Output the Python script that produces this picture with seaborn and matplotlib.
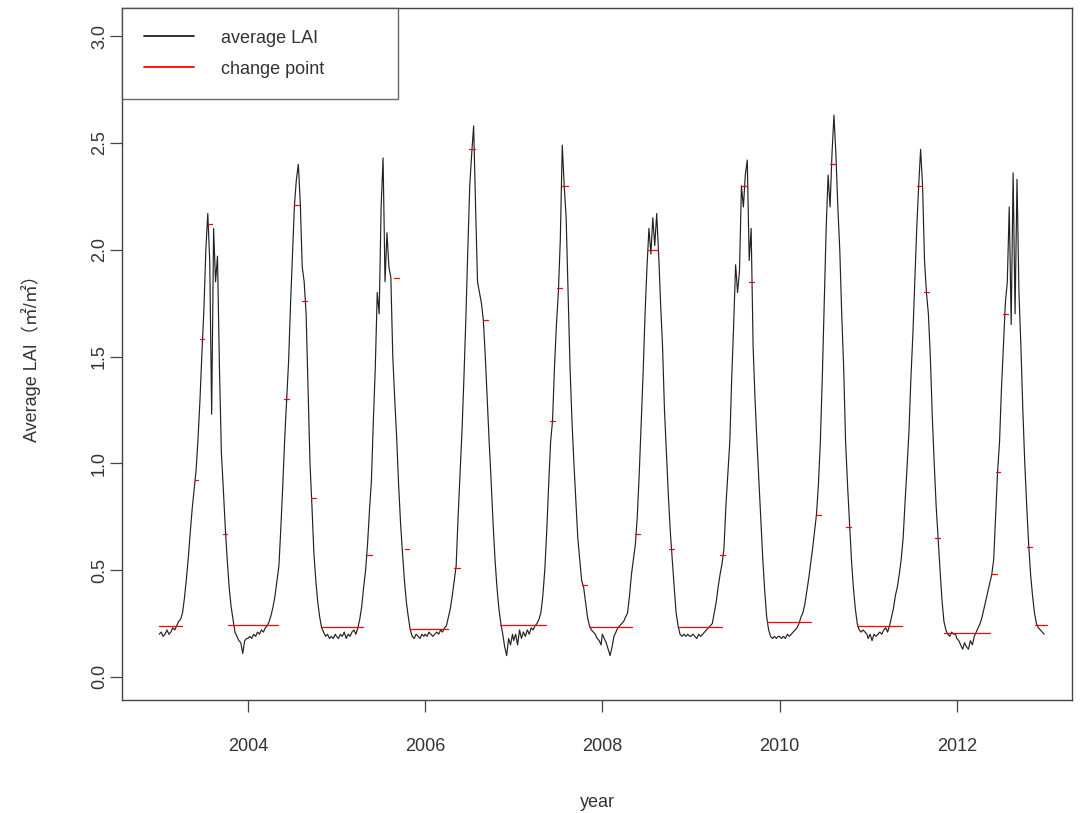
import numpy as np
import pandas as pd
import matplotlib
matplotlib.use("Agg")
import matplotlib.pyplot as plt
from matplotlib.lines import Line2D
import seaborn as sns

# ---------------- data (8-day composites, 46 per year) ----------------
years = [2003, 2004, 2005, 2006, 2007, 2008, 2009, 2010, 2011, 2012]

lai_2003 = [0.20, 0.21, 0.19, 0.20, 0.22, 0.20, 0.21, 0.23, 0.22, 0.24, 0.26,
            0.27, 0.30, 0.37, 0.46, 0.56, 0.68, 0.79, 0.88, 0.97, 1.12, 1.30,
            1.52, 1.72, 2.00, 2.17, 1.95, 1.23, 2.10, 1.85, 1.97, 1.45, 1.05,
            0.88, 0.70, 0.55, 0.42, 0.33, 0.27, 0.21, 0.19, 0.17, 0.16, 0.11,
            0.17, 0.18]
lai_2004 = [0.18, 0.19, 0.18, 0.20, 0.19, 0.21, 0.20, 0.22, 0.21, 0.23, 0.24,
            0.26, 0.29, 0.33, 0.38, 0.45, 0.52, 0.70, 0.90, 1.12, 1.30, 1.48,
            1.75, 1.98, 2.21, 2.33, 2.40, 2.22, 1.92, 1.85, 1.70, 1.35, 1.00,
            0.80, 0.58, 0.45, 0.35, 0.28, 0.23, 0.21, 0.19, 0.20, 0.18, 0.19,
            0.18, 0.20]
lai_2005 = [0.19, 0.18, 0.20, 0.19, 0.21, 0.18, 0.20, 0.19, 0.21, 0.22, 0.20,
            0.23, 0.27, 0.33, 0.42, 0.50, 0.62, 0.78, 0.92, 1.20, 1.45, 1.80,
            1.70, 2.20, 2.43, 1.85, 2.08, 1.92, 1.87, 1.50, 1.30, 1.12, 0.90,
            0.72, 0.58, 0.45, 0.35, 0.28, 0.22, 0.19, 0.18, 0.20, 0.19, 0.18,
            0.20, 0.19]
lai_2006 = [0.20, 0.19, 0.21, 0.20, 0.19, 0.20, 0.21, 0.20, 0.22, 0.21, 0.23,
            0.24, 0.28, 0.32, 0.38, 0.45, 0.52, 0.75, 0.95, 1.15, 1.40, 1.68,
            2.00, 2.30, 2.45, 2.58, 2.20, 1.85, 1.80, 1.75, 1.67, 1.50, 1.30,
            1.10, 0.92, 0.72, 0.55, 0.42, 0.32, 0.25, 0.20, 0.14, 0.10, 0.18,
            0.15, 0.20]
lai_2007 = [0.17, 0.20, 0.15, 0.22, 0.18, 0.21, 0.19, 0.22, 0.20, 0.23, 0.22,
            0.24, 0.25, 0.27, 0.30, 0.38, 0.50, 0.68, 0.90, 1.10, 1.20, 1.45,
            1.65, 1.80, 2.05, 2.49, 2.30, 2.15, 1.80, 1.45, 1.20, 1.00, 0.82,
            0.65, 0.55, 0.45, 0.42, 0.35, 0.28, 0.24, 0.22, 0.21, 0.20, 0.18,
            0.17, 0.15]
lai_2008 = [0.20, 0.18, 0.16, 0.13, 0.10, 0.14, 0.19, 0.21, 0.23, 0.24, 0.25,
            0.26, 0.28, 0.30, 0.38, 0.48, 0.55, 0.62, 0.75, 0.95, 1.18, 1.42,
            1.70, 1.92, 2.10, 1.98, 2.15, 2.02, 2.17, 1.98, 1.75, 1.55, 1.25,
            1.05, 0.85, 0.68, 0.55, 0.42, 0.30, 0.24, 0.20, 0.19, 0.20, 0.19,
            0.20, 0.19]
lai_2009 = [0.19, 0.20, 0.19, 0.18, 0.20, 0.19, 0.20, 0.21, 0.22, 0.23, 0.24,
            0.25, 0.30, 0.35, 0.42, 0.48, 0.53, 0.60, 0.80, 0.95, 1.10, 1.40,
            1.65, 1.93, 1.80, 1.90, 2.30, 2.20, 2.35, 2.42, 1.95, 2.10, 1.55,
            1.30, 1.10, 0.92, 0.75, 0.55, 0.40, 0.28, 0.22, 0.19, 0.18, 0.19,
            0.18, 0.19]
lai_2010 = [0.19, 0.18, 0.19, 0.18, 0.20, 0.19, 0.20, 0.21, 0.22, 0.23, 0.25,
            0.28, 0.30, 0.34, 0.40, 0.46, 0.53, 0.60, 0.68, 0.76, 0.90, 1.10,
            1.40, 1.75, 2.10, 2.35, 2.20, 2.45, 2.63, 2.45, 2.20, 2.00, 1.70,
            1.45, 1.10, 0.90, 0.72, 0.55, 0.42, 0.32, 0.25, 0.22, 0.21, 0.22,
            0.21, 0.20]
lai_2011 = [0.18, 0.20, 0.17, 0.20, 0.19, 0.20, 0.21, 0.20, 0.22, 0.23, 0.21,
            0.24, 0.28, 0.32, 0.38, 0.42, 0.48, 0.55, 0.65, 0.82, 0.98, 1.15,
            1.40, 1.60, 1.85, 2.10, 2.30, 2.47, 2.30, 1.95, 1.80, 1.70, 1.50,
            1.22, 1.00, 0.80, 0.65, 0.50, 0.36, 0.26, 0.22, 0.20, 0.19, 0.21,
            0.20, 0.20]
lai_2012 = [0.18, 0.17, 0.15, 0.13, 0.16, 0.14, 0.13, 0.17, 0.15, 0.19, 0.21,
            0.23, 0.25, 0.28, 0.32, 0.36, 0.40, 0.44, 0.48, 0.55, 0.75, 0.96,
            1.10, 1.35, 1.55, 1.75, 1.85, 2.20, 1.65, 2.36, 1.70, 2.33, 1.80,
            1.55, 1.25, 1.00, 0.80, 0.62, 0.48, 0.38, 0.30, 0.25, 0.23, 0.22,
            0.21, 0.20]

# change-point segments (start, end in decimal years, fitted level)
cp_start = [2003.00, 2003.40, 2003.46, 2003.55, 2003.72, 2003.78,
            2004.41, 2004.52, 2004.61, 2004.71, 2004.82,
            2005.34, 2005.65, 2005.77, 2005.83,
            2006.33, 2006.50, 2006.65, 2006.85,
            2007.41, 2007.49, 2007.55, 2007.77, 2007.85,
            2008.37, 2008.52, 2008.75, 2008.86,
            2009.33, 2009.57, 2009.65, 2009.86,
            2010.41, 2010.57, 2010.75, 2010.87,
            2011.55, 2011.63, 2011.75, 2011.86,
            2012.39, 2012.44, 2012.52, 2012.79, 2012.88]
cp_end = [2003.26, 2003.44, 2003.50, 2003.60, 2003.77, 2004.34,
          2004.47, 2004.58, 2004.67, 2004.77, 2005.30,
          2005.40, 2005.71, 2005.82, 2006.26,
          2006.39, 2006.56, 2006.71, 2007.36,
          2007.47, 2007.55, 2007.61, 2007.83, 2008.33,
          2008.43, 2008.63, 2008.81, 2009.35,
          2009.39, 2009.63, 2009.71, 2010.36,
          2010.47, 2010.63, 2010.81, 2011.38,
          2011.61, 2011.69, 2011.81, 2012.37,
          2012.45, 2012.49, 2012.58, 2012.85, 2013.02]
cp_level = [0.24, 0.92, 1.58, 2.12, 0.67, 0.245,
            1.30, 2.21, 1.76, 0.84, 0.235,
            0.57, 1.87, 0.60, 0.225,
            0.51, 2.47, 1.67, 0.245,
            1.20, 1.82, 2.30, 0.43, 0.235,
            0.67, 2.00, 0.60, 0.235,
            0.57, 2.30, 1.85, 0.255,
            0.76, 2.40, 0.70, 0.24,
            2.30, 1.80, 0.65, 0.205,
            0.48, 0.96, 1.70, 0.61, 0.245]

# ---------------- build tables ----------------
series = [lai_2003, lai_2004, lai_2005, lai_2006, lai_2007,
          lai_2008, lai_2009, lai_2010, lai_2011, lai_2012]
rows = []
for yr, vals in zip(years, series):
    for k, v in enumerate(vals):
        rows.append((yr + (k * 8) / 365.0, v))
df = pd.DataFrame(rows, columns=["year", "lai"])

seg_rows = []
for i, (s, e, l) in enumerate(zip(cp_start, cp_end, cp_level)):
    seg_rows.append((i, s, l))
    seg_rows.append((i, e, l))
seg = pd.DataFrame(seg_rows, columns=["seg", "x", "y"])

# ---------------- plot ----------------
sns.set_theme(style="white")
plt.rcParams["font.family"] = ["Liberation Sans", "Noto Sans CJK SC", "DejaVu Sans"]

fig = plt.figure(figsize=(10.87, 8.13), dpi=100)
ax = fig.add_axes([122 / 1087, 1 - 700 / 813, (1072 - 122) / 1087, (700 - 8) / 813])

sns.lineplot(data=df, x="year", y="lai", color="#222222", linewidth=0.85,
             ax=ax, legend=False)
sns.lineplot(data=seg, x="x", y="y", units="seg", estimator=None,
             color="#ff0000", linewidth=0.9, ax=ax, legend=False)

ax.set_xlim(2002.58, 2013.3)
ax.set_ylim(-0.108, 3.132)
ax.set_xticks([2004, 2006, 2008, 2010, 2012])
ax.set_yticks([0.0, 0.5, 1.0, 1.5, 2.0, 2.5, 3.0])
ax.set_yticklabels(["0.0", "0.5", "1.0", "1.5", "2.0", "2.5", "3.0"])

for sp in ax.spines.values():
    sp.set_color("#444444")
    sp.set_linewidth(1.0)

ax.tick_params(axis="both", which="major", direction="out", length=8.5,
               width=0.9, color="#444444", labelcolor="#333333", labelsize=13,
               bottom=True, left=True)
ax.tick_params(axis="x", pad=19)
ax.tick_params(axis="y", pad=1.5, labelrotation=90)
for lab in ax.get_yticklabels():
    lab.set_verticalalignment("center")

ax.set_xlabel("year", fontsize=13, color="#333333", labelpad=28)
ax.set_ylabel("Average LAI（㎡/㎡）", fontsize=13, color="#333333", labelpad=36)

handles = [Line2D([], [], color="#222222", lw=1.3),
           Line2D([], [], color="#ff0000", lw=1.3)]
leg = ax.legend(handles, ["average LAI", "change point"], loc="upper left",
                bbox_to_anchor=(0.0, 1.0, 0.291, 0.0), mode="expand",
                borderaxespad=0.0, fancybox=False, frameon=True,
                edgecolor="#444444", fontsize=13, handlelength=2.8,
                handletextpad=1.5, labelspacing=0.78, borderpad=1.2)
leg.get_frame().set_linewidth(1.0)
for t in leg.get_texts():
    t.set_color("#333333")

fig.savefig("out.png", dpi=100)
